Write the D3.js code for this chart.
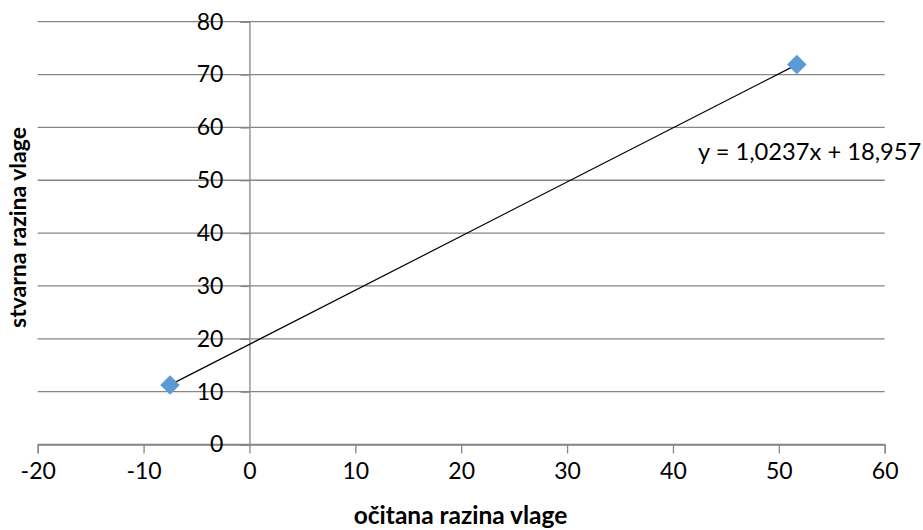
<!DOCTYPE html>
<html><head><meta charset="utf-8">
<script src="https://cdn.jsdelivr.net/npm/d3@7"></script>
<style>
body{margin:0;background:#fff;}
svg{display:block;}
text{font-family:Lato,"Open Sans",sans-serif;fill:#000;}
</style></head>
<body>
<svg id="c" width="923" height="530"></svg>
<script>
// ---- data ----
const xValues = [-7.5, 51.7];
const yValues = [11.28, 71.88];
const xTicks = [-20, -10, 0, 10, 20, 30, 40, 50, 60];
const yTicks = [0, 10, 20, 30, 40, 50, 60, 70, 80];
const xTitle = "očitana razina vlage";
const yTitle = "stvarna razina vlage";
const equationLabel = "y = 1,0237x + 18,957";

const svg = d3.select("#c");
const x = d3.scaleLinear().domain([-20, 60]).range([37.7, 884.7]);
const y = d3.scaleLinear().domain([0, 80]).range([444.5, 21.7]);
const grey = "#868686";
const fmt = d => String(d);

// gridlines
svg.append("g").selectAll("line").data(yTicks).join("line")
  .attr("x1", x(-20)).attr("x2", x(60))
  .attr("y1", d => y(d)).attr("y2", d => y(d))
  .attr("stroke", grey).attr("stroke-width", 1.3);

// x axis at y=0
const xAxis = svg.append("g").attr("transform", `translate(0,${y(0)})`)
  .call(d3.axisBottom(x).tickValues(xTicks).tickSize(9).tickPadding(9).tickFormat(fmt));
xAxis.select(".domain").attr("stroke", grey).attr("stroke-width", 1.3);
xAxis.selectAll(".tick line").attr("stroke", grey).attr("stroke-width", 1.3);
xAxis.selectAll(".tick text").attr("font-family", "Lato").attr("font-size", 23).attr("fill", "#000");

// y axis at x=0
const yAxis = svg.append("g").attr("transform", `translate(${x(0)},0)`)
  .call(d3.axisLeft(y).tickValues(yTicks).tickSize(9).tickPadding(17).tickFormat(fmt));
yAxis.select(".domain").attr("stroke", grey).attr("stroke-width", 1.3);
yAxis.selectAll(".tick line").attr("stroke", grey).attr("stroke-width", 1.3);
yAxis.selectAll(".tick text").attr("font-family", "Lato").attr("font-size", 23).attr("fill", "#000");

// linear regression trendline computed from data
const n = xValues.length;
const mx = d3.mean(xValues), my = d3.mean(yValues);
let sxy = 0, sxx = 0;
for (let i = 0; i < n; i++) { sxy += (xValues[i]-mx)*(yValues[i]-my); sxx += (xValues[i]-mx)**2; }
const slope = sxy / sxx, intercept = my - slope*mx;
const xmin = d3.min(xValues), xmax = d3.max(xValues);
svg.append("line")
  .attr("x1", x(xmin)).attr("y1", y(slope*xmin+intercept))
  .attr("x2", x(xmax)).attr("y2", y(slope*xmax+intercept))
  .attr("stroke", "#000").attr("stroke-width", 1.2);

// markers
const pts = xValues.map((v, i) => [v, yValues[i]]);
svg.append("g").selectAll("path").data(pts).join("path")
  .attr("transform", d => `translate(${x(d[0])},${y(d[1])}) rotate(45)`)
  .attr("d", d3.symbol(d3.symbolSquare, 190)())
  .attr("fill", "#5B9BD5");

// equation label
svg.append("text").attr("x", 698).attr("y", 160)
  .attr("font-size", 23.7).text(equationLabel);

// axis titles
svg.append("text").attr("x", 460.5).attr("y", 524).attr("text-anchor", "middle")
  .attr("font-size", 24.5).attr("font-weight", "bold").text(xTitle);
svg.append("text").attr("transform", "translate(26,227.5) rotate(-90)").attr("text-anchor", "middle")
  .attr("font-size", 23).attr("font-weight", "bold").text(yTitle);
</script>
</body></html>
